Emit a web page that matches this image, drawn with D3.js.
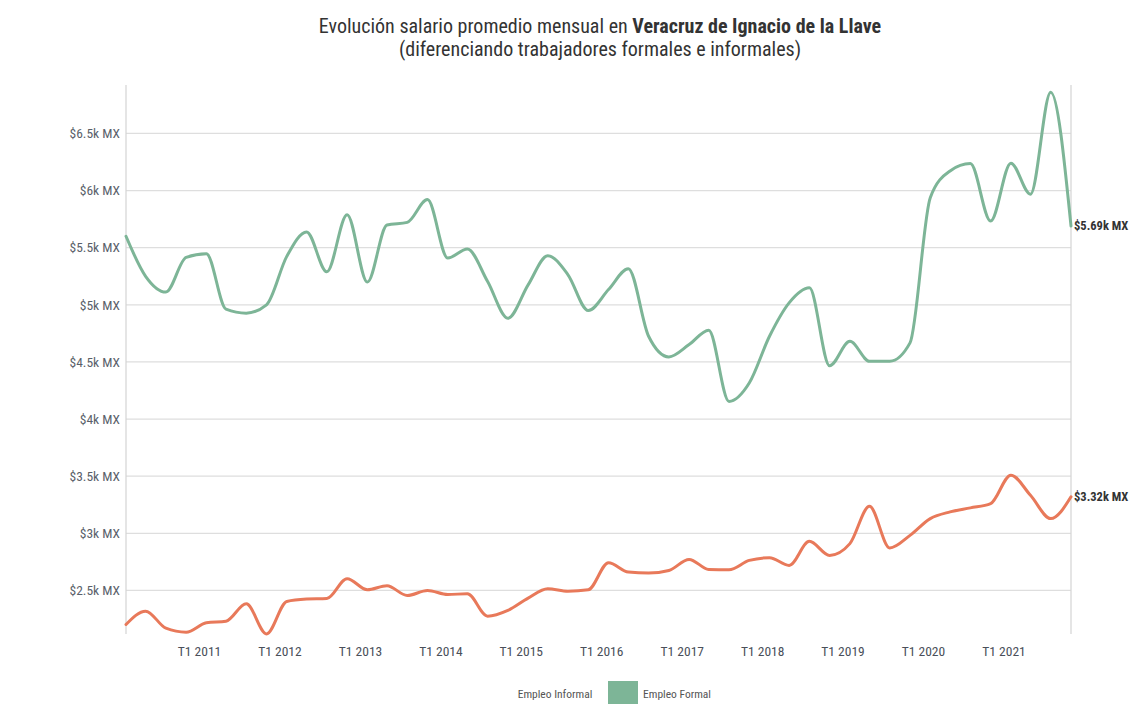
<!DOCTYPE html>
<html><head><meta charset="utf-8">
<script src="https://cdn.jsdelivr.net/npm/d3@7"></script>
<style>body{margin:0;background:#fff}</style></head>
<body><svg id="c" width="1130" height="704"></svg>
<script>
const quarters = ["T1 2010","T2 2010","T3 2010","T4 2010","T1 2011","T2 2011","T3 2011","T4 2011",
  "T1 2012","T2 2012","T3 2012","T4 2012","T1 2013","T2 2013","T3 2013","T4 2013",
  "T1 2014","T2 2014","T3 2014","T4 2014","T1 2015","T2 2015","T3 2015","T4 2015",
  "T1 2016","T2 2016","T3 2016","T4 2016","T1 2017","T2 2017","T3 2017","T4 2017",
  "T1 2018","T2 2018","T3 2018","T4 2018","T1 2019","T2 2019","T3 2019","T4 2019",
  "T1 2020","T2 2020","T3 2020","T4 2020","T1 2021","T2 2021","T3 2021","T4 2021"];
const formal = [5600,5250,5112,5415,5447,4962,4927,5000,
  5424,5638,5289,5789,5199,5699,5722,5921,
  5409,5488,5204,4883,5175,5430,5263,4950,
  5134,5316,4725,4544,4652,4778,4155,4316,
  4725,5017,5149,4467,4681,4506,4506,4667,
  5938,6172,6236,5734,6240,5968,6860,5690];
const informal = [2202,2319,2170,2135,2217,2231,2383,2120,
  2404,2425,2430,2603,2506,2541,2456,2500,
  2465,2471,2275,2325,2433,2515,2494,2506,
  2743,2661,2652,2675,2772,2684,2681,2763,
  2787,2719,2930,2807,2910,3237,2872,2982,
  3129,3188,3223,3260,3509,3333,3129,3320];
const yTicks = [2500,3000,3500,4000,4500,5000,5500,6000,6500];
const xTickLabels = ["T1 2011","T1 2012","T1 2013","T1 2014","T1 2015","T1 2016","T1 2017","T1 2018","T1 2019","T1 2020","T1 2021"];
const seriesNames = ["Empleo Informal","Empleo Formal"];
const seriesColors = ["#e8795a","#7db597"];

const FONT = "'Liberation Sans Narrow','Roboto Condensed','Open Sans',sans-serif";
const svg = d3.select("#c").style("font-family", FONT);
const mLeft = 126, mRight = 1071, mTop = 85, mBottom = 634;

function qDate(label){
  const [t, yr] = label.split(" ");
  const q = +t.slice(1);
  return new Date(+yr, (q-1)*3 + 1, 1);
}
const dates = quarters.map(qDate);
const x = d3.scaleTime().domain(d3.extent(dates)).range([mLeft, mRight]);
const y = d3.scaleLinear().domain([2119, 6924]).range([mBottom, mTop]);

// gridlines
svg.append("g").selectAll("line").data(yTicks).join("line")
  .attr("x1", mLeft).attr("x2", mRight)
  .attr("y1", d => y(d)).attr("y2", d => y(d))
  .attr("stroke", "#dedede").attr("stroke-width", 1.2);

// y axis labels
svg.append("g").selectAll("text").data(yTicks).join("text")
  .attr("x", 120).attr("y", d => y(d)).attr("dy", "0.35em")
  .attr("text-anchor", "end").attr("font-size", 13.5).attr("fill", "#5a5f6a")
  .text(d => "$" + (d/1000) + "k MX");

// vertical frame lines
svg.append("line").attr("x1", mLeft).attr("x2", mLeft).attr("y1", mTop).attr("y2", mBottom)
  .attr("stroke", "#d4d4d4").attr("stroke-width", 1.2);
svg.append("line").attr("x1", mRight).attr("x2", mRight).attr("y1", mTop).attr("y2", mBottom)
  .attr("stroke", "#d4d4d4").attr("stroke-width", 1.2);

// x axis labels
const xTickDates = xTickLabels.map(l => new Date(+l.split(" ")[1], 0, 1));
svg.append("g").selectAll("text").data(xTickLabels).join("text")
  .attr("x", (d, i) => x(xTickDates[i])).attr("y", 656)
  .attr("text-anchor", "middle").attr("font-size", 13.5).attr("fill", "#4a4f5a")
  .text(d => d);

// lines
const line = d3.line().x((d, i) => x(dates[i])).y(d => y(d)).curve(d3.curveMonotoneX);
[informal, formal].forEach((s, k) => {
  svg.append("path").datum(s).attr("d", line)
    .attr("fill", "none").attr("stroke", seriesColors[k]).attr("stroke-width", 3)
    .attr("stroke-linejoin", "round").attr("stroke-linecap", "round");
  const last = s[s.length - 1];
  svg.append("text").attr("x", mRight + 3).attr("y", y(last)).attr("dy", "0.35em")
    .attr("font-size", 12.5).attr("font-weight", "bold").attr("fill", "#333")
    .text("$" + (last/1000).toFixed(2) + "k MX");
});

// title
const title = svg.append("text").attr("x", 600).attr("y", 33).attr("text-anchor", "middle")
  .attr("font-size", 20).attr("fill", "#333");
title.append("tspan").text("Evolución salario promedio mensual en ");
title.append("tspan").attr("font-weight", "bold").text("Veracruz de Ignacio de la Llave");
svg.append("text").attr("x", 600).attr("y", 56).attr("text-anchor", "middle")
  .attr("font-size", 20).attr("fill", "#333")
  .text("(diferenciando trabajadores formales e informales)");

// legend
svg.append("text").attr("x", 555).attr("y", 698).attr("text-anchor", "middle")
  .attr("font-size", 11.5).attr("fill", "#555").text(seriesNames[0]);
svg.append("rect").attr("x", 608).attr("y", 681).attr("width", 30).attr("height", 26)
  .attr("fill", seriesColors[1]);
svg.append("text").attr("x", 643).attr("y", 698)
  .attr("font-size", 11.5).attr("fill", "#555").text(seriesNames[1]);
</script></body></html>
